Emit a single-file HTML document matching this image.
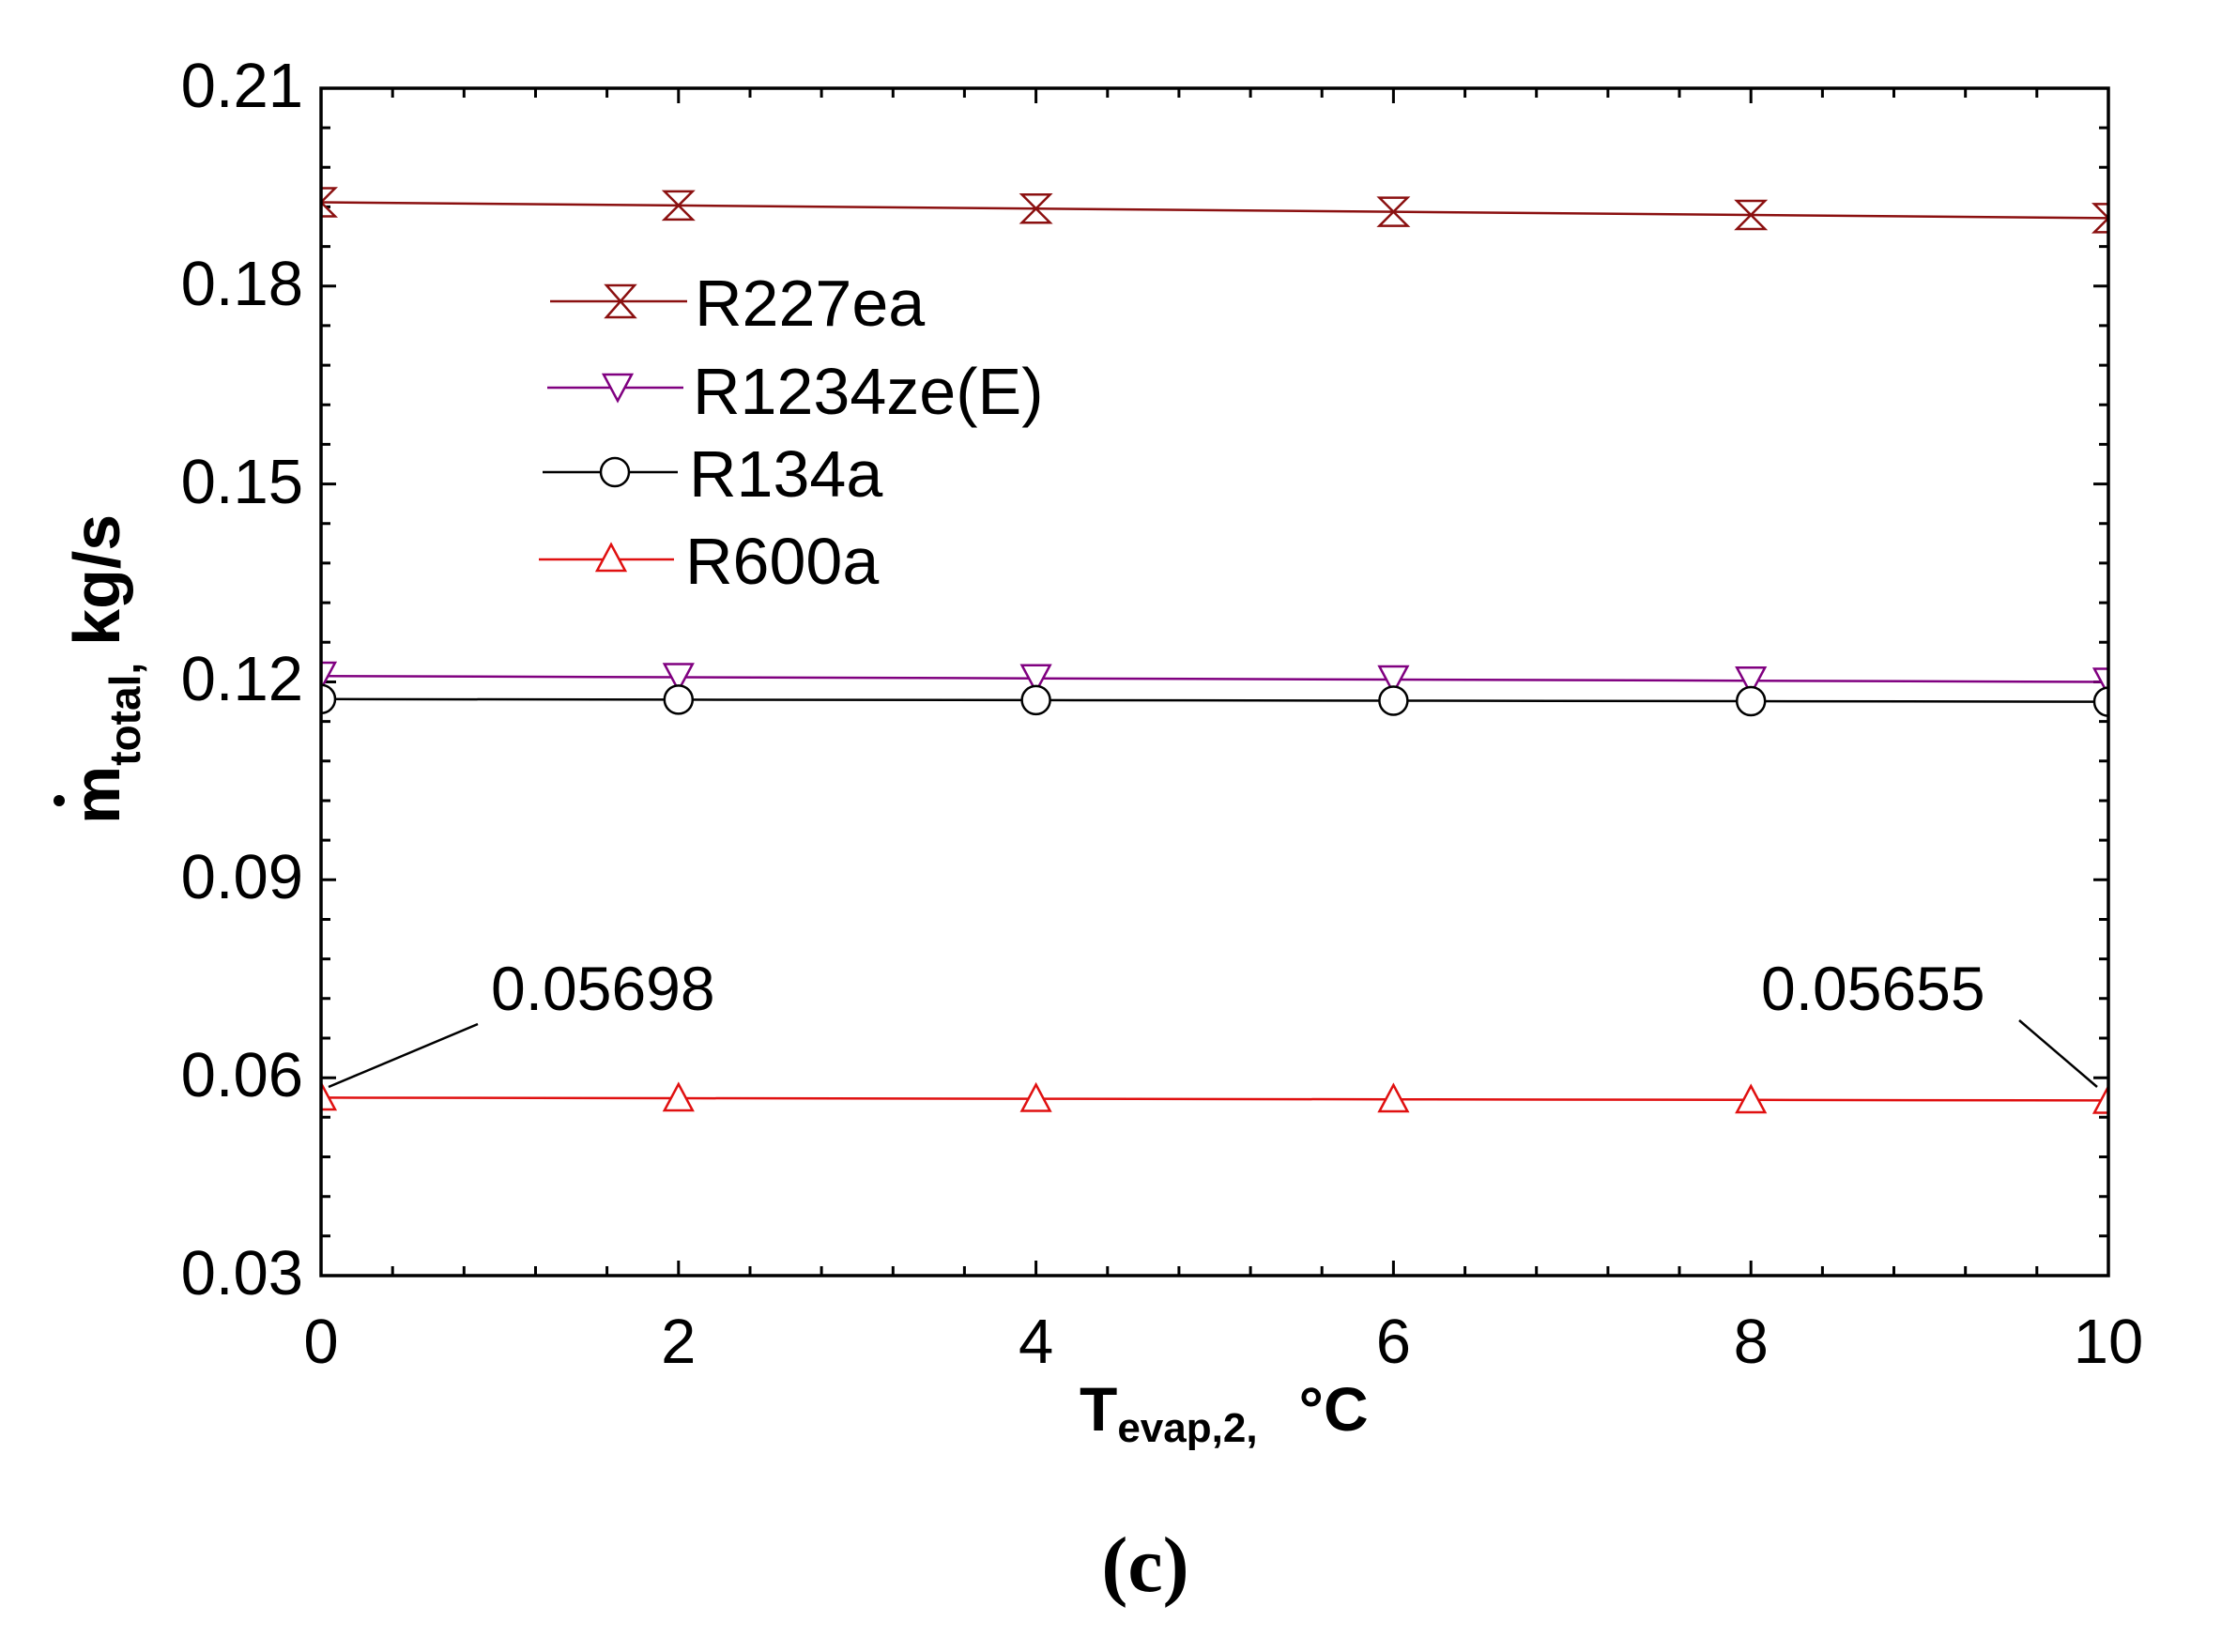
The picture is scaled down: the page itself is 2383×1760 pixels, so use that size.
<!DOCTYPE html>
<html><head><meta charset="utf-8"><style>
html,body{margin:0;padding:0;background:#fff;}
svg{display:block;}
text{font-family:"Liberation Sans",Arial,sans-serif;}
</style></head><body>
<svg width="2383" height="1760" viewBox="0 0 2383 1760" xmlns="http://www.w3.org/2000/svg">
<defs><clipPath id="pc"><rect x="342" y="94" width="1904" height="1265"/></clipPath></defs>
<rect width="2383" height="1760" fill="#fff"/>
<g stroke="#000" stroke-width="3">
<path d="M418.2,1359V1349M494.3,1359V1349M570.5,1359V1349M646.6,1359V1349M722.8,1359V1343M799,1359V1349M875.1,1359V1349M951.3,1359V1349M1027.4,1359V1349M1103.6,1359V1343M1179.8,1359V1349M1255.9,1359V1349M1332.1,1359V1349M1408.2,1359V1349M1484.4,1359V1343M1560.6,1359V1349M1636.7,1359V1349M1712.9,1359V1349M1789,1359V1349M1865.2,1359V1343M1941.4,1359V1349M2017.5,1359V1349M2093.7,1359V1349M2169.8,1359V1349"/>
<path d="M418.2,94V104M494.3,94V104M570.5,94V104M646.6,94V104M722.8,94V110M799,94V104M875.1,94V104M951.3,94V104M1027.4,94V104M1103.6,94V110M1179.8,94V104M1255.9,94V104M1332.1,94V104M1408.2,94V104M1484.4,94V110M1560.6,94V104M1636.7,94V104M1712.9,94V104M1789,94V104M1865.2,94V110M1941.4,94V104M2017.5,94V104M2093.7,94V104M2169.8,94V104"/>
<path d="M342,1316.8H352M342,1274.7H352M342,1232.5H352M342,1190.3H352M342,1148.2H358M342,1106H352M342,1063.8H352M342,1021.6H352M342,979.5H352M342,937.3H358M342,895.1H352M342,853H352M342,810.8H352M342,768.6H352M342,726.5H358M342,684.3H352M342,642.1H352M342,599.9H352M342,557.8H352M342,515.6H358M342,473.4H352M342,431.3H352M342,389.1H352M342,346.9H352M342,304.8H358M342,262.6H352M342,220.4H352M342,178.2H352M342,136.1H352"/>
<path d="M2246,1316.8H2236M2246,1274.7H2236M2246,1232.5H2236M2246,1190.3H2236M2246,1148.2H2230M2246,1106H2236M2246,1063.8H2236M2246,1021.6H2236M2246,979.5H2236M2246,937.3H2230M2246,895.1H2236M2246,853H2236M2246,810.8H2236M2246,768.6H2236M2246,726.5H2230M2246,684.3H2236M2246,642.1H2236M2246,599.9H2236M2246,557.8H2236M2246,515.6H2230M2246,473.4H2236M2246,431.3H2236M2246,389.1H2236M2246,346.9H2236M2246,304.8H2230M2246,262.6H2236M2246,220.4H2236M2246,178.2H2236M2246,136.1H2236"/>
</g>
<g clip-path="url(#pc)" stroke-width="2.5" fill="#fff">
<polyline points="342,215.5 722.8,218.9 1103.6,222.3 1484.4,225.6 1865.2,229 2246,232.4" stroke="#8b1010" fill="none"/>
<g stroke="#8b1010">
<path d="M327,200.5H357L327,230.5H357Z"/><path d="M707.8,203.9H737.8L707.8,233.9H737.8Z"/><path d="M1088.6,207.3H1118.6L1088.6,237.3H1118.6Z"/><path d="M1469.4,210.6H1499.4L1469.4,240.6H1499.4Z"/><path d="M1850.2,214H1880.2L1850.2,244H1880.2Z"/><path d="M2231,217.4H2261L2231,247.4H2261Z"/>
</g>
<polyline points="342,720.2 722.8,721.5 1103.6,722.7 1484.4,724 1865.2,725.2 2246,726.5" stroke="#800080" fill="none"/>
<g stroke="#800080">
<path d="M327,706H357L342,734Z"/><path d="M707.8,707.5H737.8L722.8,735.5Z"/><path d="M1088.6,708.7H1118.6L1103.6,736.7Z"/><path d="M1469.4,710H1499.4L1484.4,738Z"/><path d="M1850.2,711.2H1880.2L1865.2,739.2Z"/><path d="M2231,712.5H2261L2246,740.5Z"/>
</g>
<polyline points="342,744.8 722.8,745.4 1103.6,745.9 1484.4,746.5 1865.2,747 2246,747.6" stroke="#000" fill="none"/>
<g stroke="#000">
<circle cx="342" cy="744.8" r="15"/><circle cx="722.8" cy="745.4" r="15"/><circle cx="1103.6" cy="745.9" r="15"/><circle cx="1484.4" cy="746.5" r="15"/><circle cx="1865.2" cy="747" r="15"/><circle cx="2246" cy="747.6" r="15"/>
</g>
<polyline points="342,1169.4 722.8,1170 1103.6,1170.6 1484.4,1171.2 1865.2,1171.8 2246,1172.4" stroke="#e01010" fill="none"/>
<g stroke="#e01010">
<path d="M342,1154L357,1182H327Z"/><path d="M722.8,1155L737.8,1183H707.8Z"/><path d="M1103.6,1155.5L1118.6,1183.5H1088.6Z"/><path d="M1484.4,1156L1499.4,1184H1469.4Z"/><path d="M1865.2,1157L1880.2,1185H1850.2Z"/><path d="M2246,1157.5L2261,1185.5H2231Z"/>
</g>
</g>
<rect x="342" y="94" width="1904" height="1265" fill="none" stroke="#000" stroke-width="3.5"/>
<g font-size="67" fill="#000" text-anchor="end">
<text x="323" y="1379">0.03</text><text x="323" y="1168">0.06</text><text x="323" y="957">0.09</text><text x="323" y="746">0.12</text><text x="323" y="536">0.15</text><text x="323" y="325">0.18</text><text x="323" y="114">0.21</text>
</g>
<g font-size="67" fill="#000" text-anchor="middle">
<text x="342" y="1452">0</text><text x="722.8" y="1452">2</text><text x="1103.6" y="1452">4</text><text x="1484.4" y="1452">6</text><text x="1865.2" y="1452">8</text><text x="2246" y="1452">10</text>
</g>
<g stroke-width="2.5" fill="#fff">
<line x1="586" y1="321" x2="732" y2="321" stroke="#8b1010"/><path d="M646,304H676L646,338H676Z" stroke="#8b1010"/>
<line x1="583" y1="413" x2="728" y2="413" stroke="#800080"/><path d="M643,399H673L658,427Z" stroke="#800080"/>
<line x1="578" y1="503" x2="722" y2="503" stroke="#000"/><circle cx="655" cy="503" r="15" stroke="#000"/>
<line x1="574" y1="596" x2="718" y2="596" stroke="#e01010"/><path d="M651,580L666,608H636Z" stroke="#e01010"/>
</g>
<g font-size="70" fill="#000">
<text x="740" y="347">R227ea</text><text x="738" y="441">R1234ze(E)</text><text x="734" y="529">R134a</text><text x="730" y="622">R600a</text>
</g>
<g stroke="#000" stroke-width="2.5"><line x1="350" y1="1158" x2="509" y2="1091"/><line x1="2151" y1="1087" x2="2234" y2="1158"/></g>
<g font-size="66" fill="#000"><text x="523" y="1076">0.05698</text><text x="1876" y="1076">0.05655</text></g>
<text x="1150" y="1524" font-size="66" font-weight="bold" fill="#000">T<tspan font-size="44" dy="12">evap,2,</tspan><tspan dx="44" dy="-12">°C</tspan></text>
<g transform="translate(127,878) rotate(-90)">
<text x="0" y="0" font-size="70" font-weight="bold" fill="#000">m<tspan font-size="46" dy="22">total,</tspan><tspan dx="18" dy="-22">kg/s</tspan></text>
</g>
<circle cx="63" cy="853" r="6" fill="#000"/>
<text x="1220" y="1695" font-size="84" style="font-family:'Liberation Serif',serif" font-weight="bold" text-anchor="middle" fill="#000">(c)</text>
</svg>
</body></html>
